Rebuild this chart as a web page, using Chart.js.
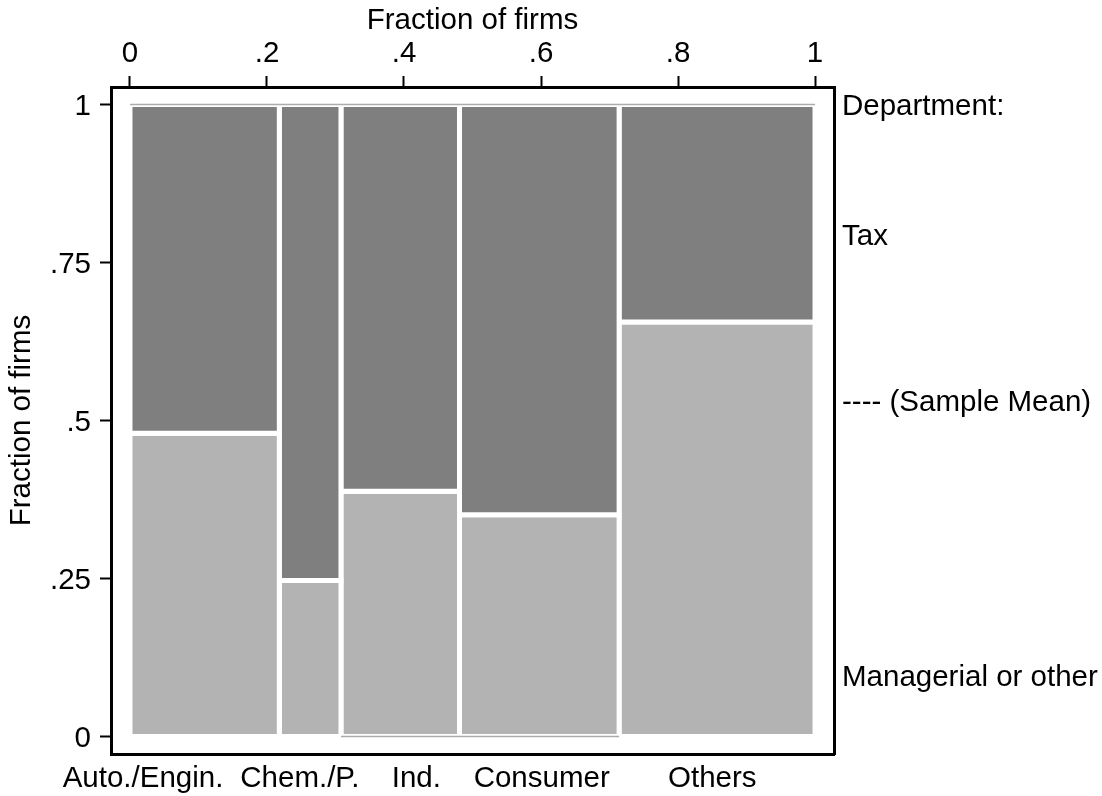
<!DOCTYPE html>
<html>
<head>
<meta charset="utf-8">
<script src="https://cdn.jsdelivr.net/npm/chart.js@4.4.1/dist/chart.umd.min.js"></script>
<style>
  body { margin: 0; background: #fff; }
</style>
</head>
<body>
<canvas id="mosaic" width="1102" height="796"></canvas>
<script>
const categories = ['Auto./Engin.', 'Chem./P.', 'Ind.', 'Consumer', 'Others'];
// column widths = share of firms in each sector
const firmShare = [0.218, 0.090, 0.173, 0.233, 0.286];
// lower block = share with a managerial or other department
const managerialShare = [0.480, 0.247, 0.388, 0.351, 0.656];
// where the sector names sit on the bottom axis
const catLabelPos = [0.019, 0.248, 0.418, 0.601, 0.850];

const xTicks = [0, 0.2, 0.4, 0.6, 0.8, 1];
const xTickLabels = ['0', '.2', '.4', '.6', '.8', '1'];
const yTicks = [0, 0.25, 0.5, 0.75, 1];
const yTickLabels = ['0', '.25', '.5', '.75', '1'];
const keyPos = [1, 0.795, 0.532, 0.097];
const keyLabels = ['Department:', 'Tax', '---- (Sample Mean)', 'Managerial or other'];

const DARK = '#7f7f7f';
const LIGHT = '#b3b3b3';
const LO = -0.0277, HI = 1.0277;

Chart.defaults.font.family = "'Liberation Sans', Arial, sans-serif";
Chart.defaults.font.size = 29.5;
Chart.defaults.color = '#000';

// cumulative column edges
const edges = [0];
firmShare.forEach(w => edges.push(edges[edges.length - 1] + w));

function rect(x0, x1, y0, y1, color) {
  return {
    data: [{x: x0, y: y0}, {x: x1, y: y0}, {x: x1, y: y1}, {x: x0, y: y1}, {x: x0, y: y0}],
    fill: 'shape',
    backgroundColor: color,
    borderColor: '#ffffff',
    borderWidth: 5,
    borderCapStyle: 'square',
    borderJoinStyle: 'miter',
    pointRadius: 0,
    tension: 0
  };
}

function outline(x0, x1, y) {
  return {
    data: [{x: x0, y: y}, {x: x1, y: y}],
    fill: false,
    borderColor: '#acacac',
    borderWidth: 1.5,
    pointRadius: 0
  };
}

const datasets = [
  outline(0, 1, 1),
  outline(edges[2], edges[4], 0)
];
categories.forEach((c, i) => {
  datasets.push(rect(edges[i], edges[i + 1], managerialShare[i], 1, DARK));
  datasets.push(rect(edges[i], edges[i + 1], 0, managerialShare[i], LIGHT));
});

const frame = {display: true, color: '#000', width: 3};

new Chart(document.getElementById('mosaic'), {
  type: 'line',
  data: {datasets: datasets},
  options: {
    responsive: false,
    animation: false,
    devicePixelRatio: 1,
    layout: {padding: 0},
    plugins: {legend: {display: false}, tooltip: {enabled: false}},
    scales: {
      x: {
        type: 'linear', position: 'top', min: LO, max: HI,
        afterBuildTicks: s => { s.ticks = xTicks.map(v => ({value: v})); },
        afterFit: s => { s.height = 87; },
        ticks: {callback: (v, i) => xTickLabels[i], padding: 4, maxRotation: 0, autoSkip: false},
        grid: {drawOnChartArea: false, tickLength: 11, tickWidth: 2, tickColor: '#000'},
        border: frame,
        title: {display: true, text: 'Fraction of firms', padding: {top: 3, bottom: 0}}
      },
      xb: {
        type: 'linear', position: 'bottom', min: LO, max: HI,
        afterBuildTicks: s => { s.ticks = catLabelPos.map(v => ({value: v})); },
        afterFit: s => { s.height = 42; },
        ticks: {callback: (v, i) => categories[i], padding: 7, maxRotation: 0, autoSkip: false},
        grid: {drawOnChartArea: false, drawTicks: false},
        border: frame
      },
      y: {
        type: 'linear', position: 'left', min: LO, max: HI,
        afterBuildTicks: s => { s.ticks = yTicks.map(v => ({value: v})); },
        afterFit: s => { s.width = 111; },
        ticks: {callback: (v, i) => yTickLabels[i], padding: 9, labelOffset: 2.5, autoSkip: false},
        grid: {drawOnChartArea: false, tickLength: 11, tickWidth: 2, tickColor: '#000'},
        border: frame,
        title: {display: true, text: 'Fraction of firms', padding: {top: 4, bottom: 0}}
      },
      yr: {
        type: 'linear', position: 'right', min: LO, max: HI,
        afterBuildTicks: s => { s.ticks = keyPos.map(v => ({value: v})); },
        afterFit: s => { s.width = 268; },
        ticks: {callback: (v, i) => keyLabels[i], padding: 8, labelOffset: 2.5, autoSkip: false},
        grid: {drawOnChartArea: false, drawTicks: false},
        border: frame
      }
    }
  }
});
</script>
</body>
</html>
